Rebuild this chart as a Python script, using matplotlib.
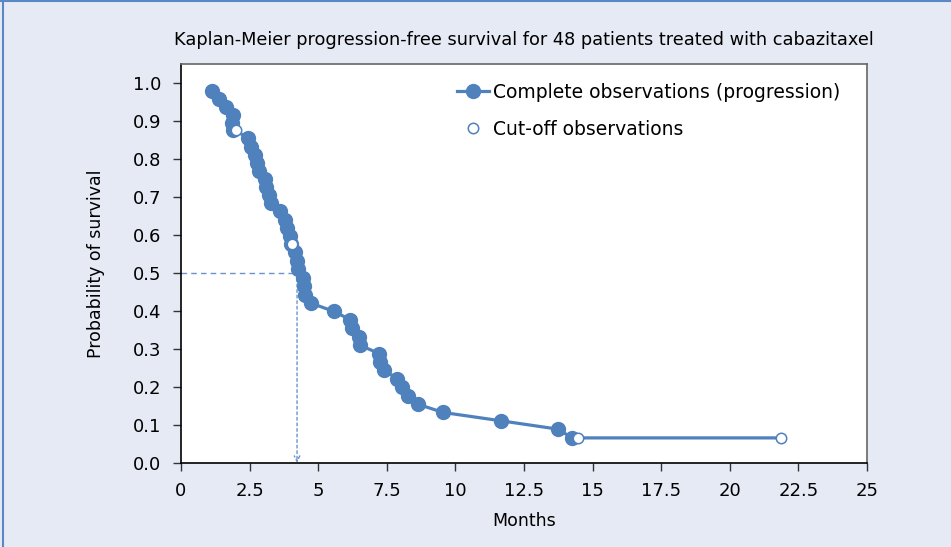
import numpy as np
import matplotlib.pyplot as plt
from matplotlib.lines import Line2D

# Kaplan-Meier points (months, survival probability)
event_months = [1.12, 1.40, 1.63, 1.88, 1.85, 1.88,
                2.45, 2.54, 2.70, 2.76, 2.84, 3.06, 3.10, 3.22, 3.27,
                3.61, 3.79, 3.86, 3.97, 4.00,
                4.15, 4.23, 4.26, 4.45, 4.48, 4.52, 4.72,
                5.57, 6.17, 6.25, 6.49, 6.52, 7.22, 7.25, 7.40,
                7.87, 8.05, 8.27, 8.62, 9.55, 11.66, 13.74, 14.25]
event_surv = [0.979, 0.958, 0.938, 0.917, 0.896, 0.875,
              0.854, 0.832, 0.811, 0.790, 0.768, 0.747, 0.726, 0.704, 0.683,
              0.662, 0.640, 0.619, 0.598, 0.576,
              0.554, 0.532, 0.510, 0.487, 0.465, 0.443, 0.421,
              0.399, 0.377, 0.355, 0.332, 0.310, 0.288, 0.266, 0.244,
              0.222, 0.200, 0.177, 0.155, 0.133, 0.111, 0.089, 0.066]

cens_months = [2.0, 4.05, 14.47, 21.87]
cens_surv = [0.875, 0.576, 0.066, 0.066]

median_month = 4.23
median_surv = 0.5

xticks = [0, 2.5, 5, 7.5, 10, 12.5, 15, 17.5, 20, 22.5, 25]
xticklabels = ["0", "2.5", "5", "7.5", "10", "12.5", "15", "17.5", "20", "22.5", "25"]
yticks = [0.0, 0.1, 0.2, 0.3, 0.4, 0.5, 0.6, 0.7, 0.8, 0.9, 1.0]

blue = "#4f81bd"
dash_blue = "#6a93cc"
bg = "#e6eaf5"

plt.rcParams['font.family'] = ['DejaVu Sans']

fig = plt.figure(figsize=(9.51, 5.47), dpi=100, facecolor=bg)
ax = fig.add_axes([0.1903, 0.1536, 0.7214, 0.7294])
ax.set_facecolor("white")

# line through all observations in time order
all_m = np.array(event_months + cens_months)
all_s = np.array(event_surv + cens_surv)
order = np.lexsort((-all_s, all_m))
ax.plot(all_m[order], all_s[order], color=blue, lw=2.3, zorder=2)
ax.plot(event_months, event_surv, 'o', color=blue, ms=10, zorder=3)
ax.plot(cens_months, cens_surv, 'o', mfc="white", mec=blue, mew=1.1, ms=7.5, zorder=4)

# median lines
ax.plot([0, median_month], [median_surv, median_surv], ls=(0, (4, 3)), color=dash_blue, lw=1, zorder=1)
ax.annotate("", xy=(median_month, 0.0), xytext=(median_month, median_surv),
            arrowprops=dict(arrowstyle="->", ls=(0, (2, 2)), color=dash_blue, lw=1,
                            shrinkA=0, shrinkB=0), zorder=1)

# legend handles
h1 = Line2D([], [], color=blue, lw=2.3, marker='o', ms=10)
h2 = Line2D([], [], ls='none', marker='o', mfc="white", mec=blue, mew=1.1, ms=7.5)
ax.legend([h1, h2], ["Complete observations (progression)", "Cut-off observations"],
          loc="upper right", bbox_to_anchor=(0.985, 0.995), frameon=False,
          fontsize=13.5, labelspacing=0.95, handlelength=1.7, handletextpad=0.2)

ax.set_xlim(0, 25)
ax.set_ylim(0, 1.05)
ax.set_xticks(xticks)
ax.set_xticklabels(xticklabels)
ax.set_yticks(yticks)
ax.set_yticklabels([f"{v:.1f}" for v in yticks])
ax.tick_params(direction="out", length=6, width=1, labelsize=13, pad=8, color="#333333")

for s in ["left", "bottom"]:
    ax.spines[s].set_color("black")
    ax.spines[s].set_linewidth(1.2)
for s in ["top", "right"]:
    ax.spines[s].set_color("#666666")
    ax.spines[s].set_linewidth(1.2)

ax.set_xlabel("Months", fontsize=12.5, labelpad=8)
ax.set_ylabel("Probability of survival", fontsize=12.5, labelpad=20)
ax.set_title("Kaplan-Meier progression-free survival for 48 patients treated with cabazitaxel",
             fontsize=12.8, pad=14)

# figure border (top and left)
fig.add_artist(Line2D([0, 1], [0.998, 0.998], color="#5b87c6", lw=1.5))
fig.add_artist(Line2D([0.0035, 0.0035], [0, 1], color="#5b87c6", lw=1.5))

fig.savefig("out.png", dpi=100, facecolor=bg)
